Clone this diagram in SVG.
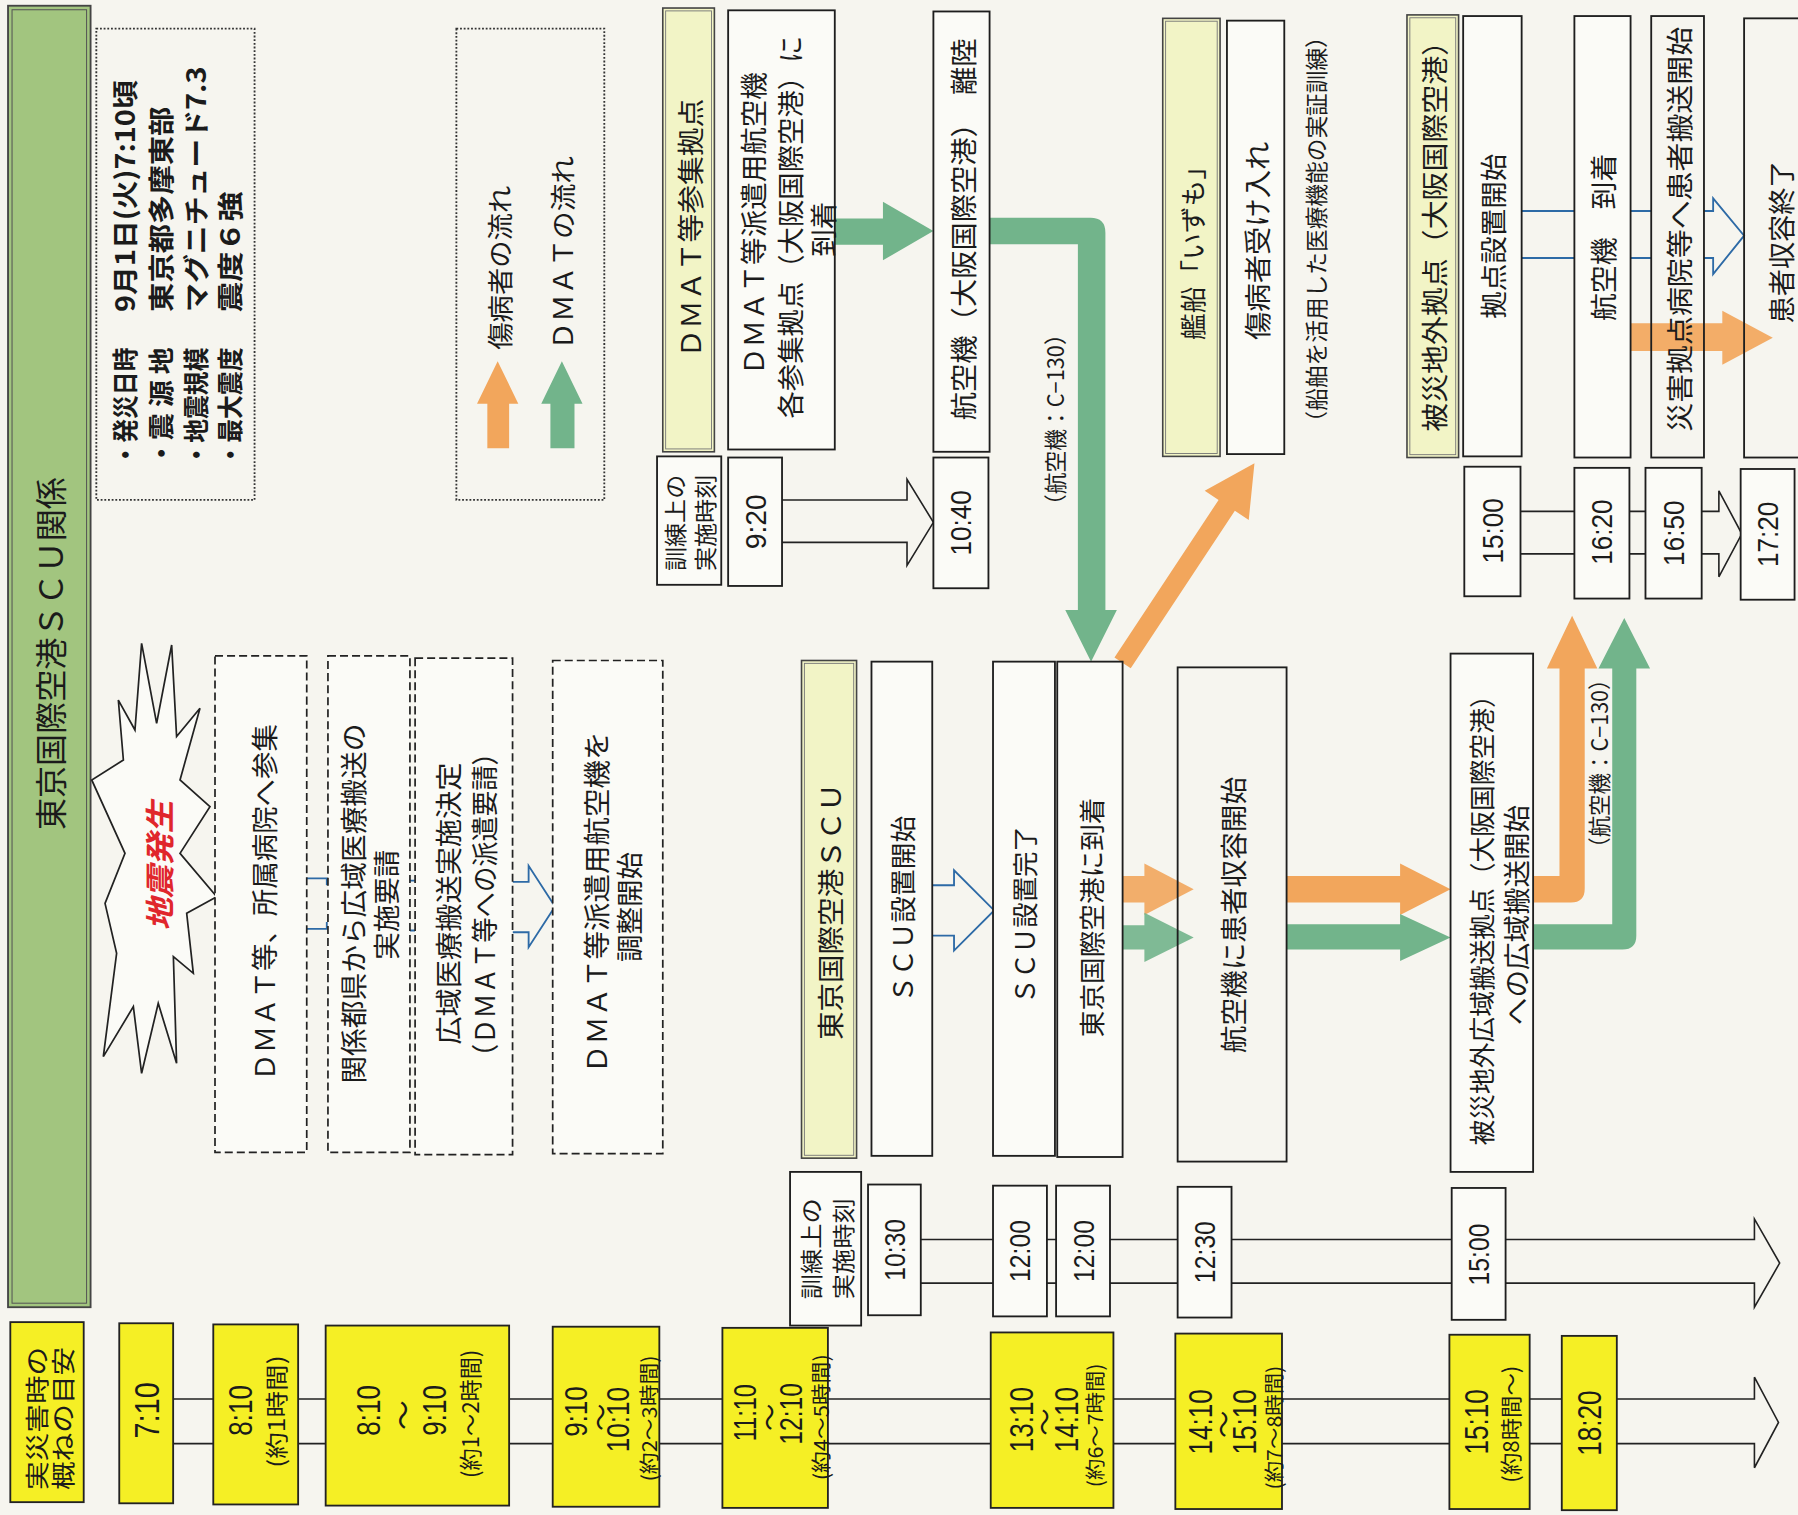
<svg xmlns="http://www.w3.org/2000/svg" width="1798" height="1515" viewBox="0 0 1798 1515">
<defs>
<style>
.j{font-family:"Noto Sans CJK JP","Liberation Sans",sans-serif;fill:#1b1b1b;}
.n{font-family:"Liberation Sans","DejaVu Sans",sans-serif;fill:#1b1b1b;}
.v{text-anchor:middle;dominant-baseline:central;}
.vs{text-anchor:start;dominant-baseline:central;}
.box{fill:#fbfbf7;stroke:#1e1e1e;stroke-width:1.6;}
.open{fill:none;stroke:#1e1e1e;stroke-width:1.6;}
.yl{fill:#f5ef25;stroke:#222;stroke-width:1.6;}
.ly{fill:#f2f4c6;stroke:#444;stroke-width:1.4;}
.lyi{fill:none;stroke:#777;stroke-width:0.8;}
.dash{fill:#fbfbf7;stroke:#222;stroke-width:1.5;stroke-dasharray:7 3.5;}
.dot{fill:none;stroke:#333;stroke-width:1.6;stroke-dasharray:1.6 1.6;}
.hol{fill:none;stroke:#222;stroke-width:1.4;}
.blue{fill:none;stroke:#2d6aa6;stroke-width:1.6;}
.or{fill:#f2a65c;}
.gr{fill:#72b48b;}
</style>
</defs>
<rect x="0" y="0" width="1798" height="1515" fill="#f6f5ef"/>
<g transform="scale(1.14668)">

<g id="connectors">
  <!-- time row hollow arrows -->
  <path class="hol" d="M682,436 H791 V418 L814,455.5 L791,493 V473 H682"/>
  <path class="hol" d="M1326,446 H1499 V428 L1519,465.5 L1499,503 V483 H1326"/>
  <path class="hol" d="M803,1081 H1530 V1063 L1552,1101.5 L1530,1140 V1119 H803"/>
  <path class="hol" d="M151,1220 H1530 V1201 L1551,1240.5 L1530,1280 V1259 H151"/>
  <!-- blue connectors -->
  <path class="blue" d="M267.5,766 H285 V772 M267.5,810 H285 V804"/>
  <path class="blue" d="M357.5,768 H362 M357.5,811.5 H362"/>
  <path class="blue" d="M447,769 H461 V755 L484,790.5 L461,826 V813 H447"/>
  <path class="blue" d="M813,772 H832 V759 L867,794 L832,829 V816 H813"/>
  <path class="blue" d="M1327,184 H1373 M1327,225 H1373 M1422,184 H1440 M1422,225 H1440"/>
  <path class="blue" d="M1486,184 H1494 V173 L1521,205.5 L1494,239 V225 H1486"/>
  <!-- green: DMAT base to aircraft -->
  <path class="gr" d="M728,190.5 H770 V176 L814,201.5 L770,227 V213.5 H728 Z"/>
  <!-- green L: aircraft departs, down to Tokyo -->
  <path class="gr" d="M862,190 H951 Q964,190 964,203 V532 H974 L951.5,577 L929,532 H940 V213 H862 Z"/>
  <!-- orange diagonal to ship -->
  <path class="or" d="M971.9,573.3 L1062.7,436 L1050.6,428 L1094,404 L1089,453.4 L1076.9,445.4 L986.1,582.7 Z"/>
  <!-- orange/green into aircraft loading -->
  <path class="or" d="M979,764 H998 V753 L1041,775.5 L998,798 V787 H979 Z" opacity="0.9"/>
  <path class="gr" d="M979,807 H998 V796 L1041,817.5 L998,839 V828 H979 Z" opacity="0.9"/>
  <!-- orange/green to Osaka staging -->
  <path class="or" d="M1122,764 H1221 V753 L1265,775.5 L1221,798 V787 H1122 Z"/>
  <path class="gr" d="M1122,806 H1221 V797 L1265,817.5 L1221,838 V828 H1122 Z"/>
  <!-- orange/green up to Osaka -->
  <path class="or" d="M1337,764 H1360 V583 H1349 L1371,537 L1393,583 H1382 V775 Q1382,787 1370,787 H1337 Z"/>
  <path class="gr" d="M1337,806 H1406 V583 H1394 L1416.5,539 L1439,583 H1427 V816 Q1427,828 1415,828 H1337 Z"/>
  <!-- orange: to disaster base hospitals -->
  <path class="or" d="M1422,282 H1502 V271 L1546,294.5 L1502,318 V306 H1422 Z" opacity="0.92"/>
</g>

<g id="n-header">
  <rect x="7" y="5" width="72" height="1135" fill="#a2c57f" stroke="#444" stroke-width="1.6"/>
  <rect x="10.5" y="8.5" width="65" height="1128" fill="none" stroke="#555" stroke-width="0.9"/>
  <text class="j v" font-size="28" transform="translate(43,570) rotate(-90)">東京国際空港ＳＣＵ関係</text>
</g>

<g id="n-info">
  <rect class="dot" x="84" y="25" width="138" height="411"/>
  <g class="j vs" font-weight="bold" font-size="23">
    <text transform="translate(108,407) rotate(-90)" textLength="104" lengthAdjust="spacingAndGlyphs">・発災日時</text>
    <text transform="translate(108,272) rotate(-90)" textLength="202" lengthAdjust="spacingAndGlyphs">9月1日(火)7:10頃</text>
    <text transform="translate(139,407) rotate(-90)" textLength="104" lengthAdjust="spacingAndGlyphs">・震 源 地</text>
    <text transform="translate(139,272) rotate(-90)" textLength="179" lengthAdjust="spacingAndGlyphs">東京都多摩東部</text>
    <text transform="translate(170,407) rotate(-90)" textLength="104" lengthAdjust="spacingAndGlyphs">・地震規模</text>
    <text transform="translate(170,272) rotate(-90)" textLength="214" lengthAdjust="spacingAndGlyphs">マグニチュード7.3</text>
    <text transform="translate(199,407) rotate(-90)" textLength="104" lengthAdjust="spacingAndGlyphs">・最大震度</text>
    <text transform="translate(199,272) rotate(-90)" textLength="105" lengthAdjust="spacingAndGlyphs">震度６強</text>
  </g>
</g>

<g id="n-legend">
  <rect class="dot" x="398" y="25" width="129" height="411"/>
  <path class="or" d="M425,391 V352 H416 L434,315 L452,352 H444 V391 Z"/>
  <path class="gr" d="M480,391 V352 H472 L490,315 L508,352 H501 V391 Z"/>
  <text class="j vs" font-size="23" transform="translate(435,305) rotate(-90)" textLength="143" lengthAdjust="spacingAndGlyphs">傷病者の流れ</text>
  <text class="j vs" font-size="23" transform="translate(490,305) rotate(-90)" textLength="169" lengthAdjust="spacingAndGlyphs">ＤＭＡＴの流れ</text>
</g>

<g id="n-quake">
  <polygon points="123.5,561 136.6,630.8 149.7,562.5 154,642.4 174.4,617.7 157,680.2 183.1,703.5 157,744.2 189,782 162.8,796.5 168.6,848.8 151.2,834.3 154,927.3 138,875 123.5,936 116.3,877.9 90.1,921.5 101.7,831.4 91.6,787.8 109,744.2 80,680.2 107.6,662.8 103.2,610.5 117.7,636.6" fill="#fbfbf7" stroke="#222" stroke-width="1.5" stroke-linejoin="miter"/>
  <text class="j v" font-size="26" font-weight="bold" font-style="italic" fill="#e0262c" style="fill:#e0262c" transform="translate(138,755) rotate(-90)" textLength="113" lengthAdjust="spacingAndGlyphs">地震発生</text>
</g>

<g id="n-d1">
  <rect class="dash" x="187.5" y="572" width="80" height="433"/>
  <text class="j v" font-size="24" transform="translate(229,787) rotate(-90)" textLength="311" lengthAdjust="spacingAndGlyphs">ＤＭＡＴ等、所属病院へ参集</text>
</g>
<g id="n-d2">
  <rect class="dash" x="286" y="572" width="71.5" height="433"/>
  <text class="j v" font-size="24" transform="translate(307,788) rotate(-90)" textLength="314" lengthAdjust="spacingAndGlyphs">関係都県から広域医療搬送の</text>
  <text class="j v" font-size="24" transform="translate(336,789) rotate(-90)">実施要請</text>
</g>
<g id="n-d3">
  <rect class="dash" x="362" y="574" width="85" height="433"/>
  <text class="j v" font-size="24" transform="translate(390,788) rotate(-90)" textLength="246" lengthAdjust="spacingAndGlyphs">広域医療搬送実施決定</text>
  <text class="j v" font-size="24" transform="translate(421,789) rotate(-90)" textLength="287" lengthAdjust="spacingAndGlyphs">（ＤＭＡＴ等への派遣要請）</text>
</g>
<g id="n-d4">
  <rect class="dash" x="482" y="576" width="96" height="430"/>
  <text class="j v" font-size="24" transform="translate(519,787) rotate(-90)" textLength="298" lengthAdjust="spacingAndGlyphs">ＤＭＡＴ等派遣用航空機を</text>
  <text class="j v" font-size="24" transform="translate(548,791) rotate(-90)">調整開始</text>
</g>

<g id="n-dmat-base">
  <rect class="ly" x="578" y="7" width="45" height="387"/>
  <rect class="lyi" x="580.5" y="9.5" width="40" height="382"/>
  <text class="j v" font-size="24" transform="translate(600.5,199) rotate(-90)" textLength="226" lengthAdjust="spacingAndGlyphs">ＤＭＡＴ等参集拠点</text>
</g>
<g id="n-dmat-arrive">
  <rect class="box" x="635" y="9" width="93" height="383"/>
  <text class="j v" font-size="24" transform="translate(656,195) rotate(-90)" textLength="264" lengthAdjust="spacingAndGlyphs">ＤＭＡＴ等派遣用航空機</text>
  <text class="j v" font-size="24" transform="translate(688,198) rotate(-90)" textLength="334" lengthAdjust="spacingAndGlyphs">各参集拠点（大阪国際空港）に</text>
  <text class="j v" font-size="24" transform="translate(717,200) rotate(-90)">到着</text>
</g>
<g id="n-osaka-takeoff">
  <rect class="box" x="814" y="10" width="49" height="384"/>
  <text class="j v" font-size="24" transform="translate(839,200) rotate(-90)" textLength="333" lengthAdjust="spacingAndGlyphs">航空機（大阪国際空港）　離陸</text>
</g>
<g id="n-c130-a">
  <text class="j v" font-size="20" transform="translate(919,366) rotate(-90)" textLength="168" lengthAdjust="spacingAndGlyphs">（航空機：C−130）</text>
</g>
<g id="n-izumo">
  <rect class="ly" x="1014" y="16" width="50" height="382"/>
  <rect class="lyi" x="1016.5" y="18.5" width="45" height="377"/>
  <text class="j v" font-size="23" transform="translate(1039,215) rotate(-90)" textLength="163" lengthAdjust="spacingAndGlyphs">艦船「いずも」</text>
</g>
<g id="n-ship-accept">
  <rect class="box" x="1070" y="18" width="50" height="378"/>
  <text class="j v" font-size="24" transform="translate(1095,210) rotate(-90)" textLength="173" lengthAdjust="spacingAndGlyphs">傷病者受け入れ</text>
</g>
<g id="n-ship-note">
  <text class="j v" font-size="20" transform="translate(1147,200) rotate(-90)" textLength="356" lengthAdjust="spacingAndGlyphs">（船舶を活用した医療機能の実証訓練）</text>
</g>

<g id="n-osaka-base">
  <rect class="ly" x="1227" y="13" width="45" height="386"/>
  <rect class="lyi" x="1229.5" y="15.5" width="40" height="381"/>
  <text class="j v" font-size="24" transform="translate(1249.5,200) rotate(-90)" textLength="353" lengthAdjust="spacingAndGlyphs">被災地外拠点（大阪国際空港）</text>
</g>
<g id="n-base-setup">
  <rect class="box" x="1276" y="14" width="51" height="384"/>
  <text class="j v" font-size="24" transform="translate(1301.5,206) rotate(-90)" textLength="144" lengthAdjust="spacingAndGlyphs">拠点設置開始</text>
</g>
<g id="n-plane-arrive">
  <rect class="box" x="1373" y="14" width="49" height="385"/>
  <text class="j v" font-size="24" transform="translate(1397.5,207) rotate(-90)" textLength="146" lengthAdjust="spacingAndGlyphs">航空機　到着</text>
</g>
<g id="n-hospital">
  <rect class="open" x="1440" y="14" width="46" height="385"/>
  <text class="j v" font-size="24" transform="translate(1463,200) rotate(-90)" textLength="353" lengthAdjust="spacingAndGlyphs">災害拠点病院等へ患者搬送開始</text>
</g>
<g id="n-done">
  <rect class="open" x="1521" y="16" width="60" height="383"/>
  <text class="j v" font-size="24" transform="translate(1552,211) rotate(-90)" textLength="142" lengthAdjust="spacingAndGlyphs">患者収容終了</text>
</g>

<g id="n-scu">
  <rect class="ly" x="699" y="576" width="48" height="434"/>
  <rect class="lyi" x="701.5" y="578.5" width="43" height="429"/>
  <text class="j v" font-size="24" transform="translate(723,795) rotate(-90)" textLength="224" lengthAdjust="spacingAndGlyphs">東京国際空港ＳＣＵ</text>
</g>
<g id="n-scu-start">
  <rect class="box" x="760" y="577" width="53" height="431"/>
  <text class="j v" font-size="23" transform="translate(786.5,793) rotate(-90)" textLength="163" lengthAdjust="spacingAndGlyphs">ＳＣＵ設置開始</text>
</g>
<g id="n-scu-done">
  <rect class="box" x="866" y="577" width="54" height="431"/>
  <text class="j v" font-size="23" transform="translate(893,798) rotate(-90)" textLength="155" lengthAdjust="spacingAndGlyphs">ＳＣＵ設置完了</text>
</g>
<g id="n-tokyo-arrive">
  <rect class="box" x="922" y="577" width="57" height="432"/>
  <text class="j v" font-size="23" transform="translate(951,800) rotate(-90)" textLength="209" lengthAdjust="spacingAndGlyphs">東京国際空港に到着</text>
</g>
<g id="n-loading">
  <rect class="open" x="1027" y="582" width="95" height="431"/>
  <text class="j v" font-size="24" transform="translate(1074,798) rotate(-90)" textLength="241" lengthAdjust="spacingAndGlyphs">航空機に患者収容開始</text>
</g>
<g id="n-transport">
  <rect class="box" x="1265" y="570" width="72" height="452"/>
  <text class="j v" font-size="23" transform="translate(1291,797) rotate(-90)" textLength="404" lengthAdjust="spacingAndGlyphs">被災地外広域搬送拠点（大阪国際空港）</text>
  <text class="j v" font-size="24" transform="translate(1321,798) rotate(-90)" textLength="192" lengthAdjust="spacingAndGlyphs">への広域搬送開始</text>
</g>
<g id="n-c130-b">
  <text class="j v" font-size="20" transform="translate(1394,666) rotate(-90)" textLength="166" lengthAdjust="spacingAndGlyphs">（航空機：C−130）</text>
</g>

<!-- training time labels -->
<g id="n-trainlabel-top">
  <rect class="box" x="573" y="398" width="56" height="112"/>
  <text class="j v" font-size="20" transform="translate(588,456) rotate(-90)" textLength="84" lengthAdjust="spacingAndGlyphs">訓練上の</text>
  <text class="j v" font-size="20" transform="translate(614,456) rotate(-90)" textLength="84" lengthAdjust="spacingAndGlyphs">実施時刻</text>
</g>
<g id="n-t920"><rect class="box" x="635" y="399" width="47" height="112"/><text class="n v" font-size="26" transform="translate(658.5,455) rotate(-90)" textLength="48" lengthAdjust="spacingAndGlyphs">9:20</text></g>
<g id="n-t1040"><rect class="box" x="814" y="399" width="48" height="114"/><text class="n v" font-size="26" transform="translate(838,456) rotate(-90)" textLength="57" lengthAdjust="spacingAndGlyphs">10:40</text></g>
<g id="n-t1500a"><rect class="box" x="1277" y="407" width="49" height="113"/><text class="n v" font-size="26" transform="translate(1301.5,463) rotate(-90)" textLength="57" lengthAdjust="spacingAndGlyphs">15:00</text></g>
<g id="n-t1620"><rect class="box" x="1373" y="408" width="48" height="114"/><text class="n v" font-size="26" transform="translate(1397,464) rotate(-90)" textLength="57" lengthAdjust="spacingAndGlyphs">16:20</text></g>
<g id="n-t1650"><rect class="box" x="1435" y="408" width="49" height="114"/><text class="n v" font-size="26" transform="translate(1459.5,465) rotate(-90)" textLength="57" lengthAdjust="spacingAndGlyphs">16:50</text></g>
<g id="n-t1720"><rect class="box" x="1518" y="409" width="47" height="114"/><text class="n v" font-size="26" transform="translate(1541.5,466) rotate(-90)" textLength="57" lengthAdjust="spacingAndGlyphs">17:20</text></g>

<g id="n-trainlabel-mid">
  <rect class="box" x="689" y="1022" width="62" height="134"/>
  <text class="j v" font-size="20" transform="translate(706,1089) rotate(-90)" textLength="88" lengthAdjust="spacingAndGlyphs">訓練上の</text>
  <text class="j v" font-size="20" transform="translate(734,1089) rotate(-90)" textLength="88" lengthAdjust="spacingAndGlyphs">実施時刻</text>
</g>
<g id="n-t1030"><rect class="box" x="757" y="1033" width="46" height="114"/><text class="n v" font-size="26" transform="translate(780,1090) rotate(-90)" textLength="54" lengthAdjust="spacingAndGlyphs">10:30</text></g>
<g id="n-t1200a"><rect class="box" x="866" y="1034" width="47" height="114"/><text class="n v" font-size="26" transform="translate(889.5,1091) rotate(-90)" textLength="54" lengthAdjust="spacingAndGlyphs">12:00</text></g>
<g id="n-t1200b"><rect class="box" x="921" y="1034" width="47" height="114"/><text class="n v" font-size="26" transform="translate(944.5,1091) rotate(-90)" textLength="54" lengthAdjust="spacingAndGlyphs">12:00</text></g>
<g id="n-t1230"><rect class="box" x="1027" y="1035" width="47" height="114"/><text class="n v" font-size="26" transform="translate(1050.5,1092) rotate(-90)" textLength="54" lengthAdjust="spacingAndGlyphs">12:30</text></g>
<g id="n-t1500b"><rect class="box" x="1266" y="1036" width="47" height="115"/><text class="n v" font-size="26" transform="translate(1289.5,1094) rotate(-90)" textLength="54" lengthAdjust="spacingAndGlyphs">15:00</text></g>

<!-- real-disaster estimate row -->
<g id="n-y-label">
  <rect class="yl" x="9" y="1153" width="64" height="157"/>
  <text class="j v" font-size="21" transform="translate(31,1237) rotate(-90)" textLength="125" lengthAdjust="spacingAndGlyphs">実災害時の</text>
  <text class="j v" font-size="21" transform="translate(54,1237) rotate(-90)" textLength="125" lengthAdjust="spacingAndGlyphs">概ねの目安</text>
</g>
<g id="n-y710">
  <rect class="yl" x="104" y="1154" width="47" height="157"/>
  <text class="n v" font-size="30" transform="translate(128,1230) rotate(-90)" textLength="49" lengthAdjust="spacingAndGlyphs">7:10</text>
</g>
<g id="n-y810">
  <rect class="yl" x="186" y="1155" width="74" height="157"/>
  <text class="n v" font-size="29" transform="translate(210,1230) rotate(-90)" textLength="44" lengthAdjust="spacingAndGlyphs">8:10</text>
  <text class="j v" font-size="20" transform="translate(240,1231) rotate(-90)" textLength="98" lengthAdjust="spacingAndGlyphs">(約1時間)</text>
</g>
<g id="n-y810-910">
  <rect class="yl" x="284" y="1156" width="160" height="157"/>
  <text class="n v" font-size="29" transform="translate(321,1230) rotate(-90)" textLength="44" lengthAdjust="spacingAndGlyphs">8:10</text>
  <text class="j v" font-size="26" transform="translate(350,1234) rotate(-90)">～</text>
  <text class="n v" font-size="29" transform="translate(379,1230) rotate(-90)" textLength="44" lengthAdjust="spacingAndGlyphs">9:10</text>
  <text class="j v" font-size="20" transform="translate(409,1233) rotate(-90)" textLength="112" lengthAdjust="spacingAndGlyphs">(約1～2時間)</text>
</g>
<g id="n-y910-1010">
  <rect class="yl" x="482" y="1157" width="93" height="157"/>
  <text class="n v" font-size="28" transform="translate(502,1231) rotate(-90)" textLength="44" lengthAdjust="spacingAndGlyphs">9:10</text>
  <text class="j v" font-size="24" transform="translate(522,1236) rotate(-90)">～</text>
  <text class="n v" font-size="28" transform="translate(539,1238) rotate(-90)" textLength="57" lengthAdjust="spacingAndGlyphs">10:10</text>
  <text class="j v" font-size="18" transform="translate(565,1237) rotate(-90)" textLength="110" lengthAdjust="spacingAndGlyphs">(約2～3時間)</text>
</g>
<g id="n-y1110-1210">
  <rect class="yl" x="630" y="1158" width="92" height="157"/>
  <text class="n v" font-size="28" transform="translate(650,1232) rotate(-90)" textLength="50" lengthAdjust="spacingAndGlyphs">11:10</text>
  <text class="j v" font-size="24" transform="translate(670,1236) rotate(-90)">～</text>
  <text class="n v" font-size="28" transform="translate(690,1233) rotate(-90)" textLength="54" lengthAdjust="spacingAndGlyphs">12:10</text>
  <text class="j v" font-size="18" transform="translate(715,1236) rotate(-90)" textLength="110" lengthAdjust="spacingAndGlyphs">(約4～5時間)</text>
</g>
<g id="n-y1310-1410">
  <rect class="yl" x="864" y="1162" width="107" height="153"/>
  <text class="n v" font-size="29" transform="translate(891,1238) rotate(-90)" textLength="57" lengthAdjust="spacingAndGlyphs">13:10</text>
  <text class="j v" font-size="24" transform="translate(910,1240) rotate(-90)">～</text>
  <text class="n v" font-size="29" transform="translate(930,1238) rotate(-90)" textLength="57" lengthAdjust="spacingAndGlyphs">14:10</text>
  <text class="j v" font-size="18" transform="translate(954,1243) rotate(-90)" textLength="108" lengthAdjust="spacingAndGlyphs">(約6～7時間)</text>
</g>
<g id="n-y1410-1510">
  <rect class="yl" x="1025" y="1163" width="93" height="153"/>
  <text class="n v" font-size="29" transform="translate(1047,1240) rotate(-90)" textLength="57" lengthAdjust="spacingAndGlyphs">14:10</text>
  <text class="j v" font-size="24" transform="translate(1066,1242) rotate(-90)">～</text>
  <text class="n v" font-size="29" transform="translate(1085,1240) rotate(-90)" textLength="57" lengthAdjust="spacingAndGlyphs">15:10</text>
  <text class="j v" font-size="18" transform="translate(1110,1245) rotate(-90)" textLength="108" lengthAdjust="spacingAndGlyphs">(約7～8時間)</text>
</g>
<g id="n-y1510">
  <rect class="yl" x="1264" y="1164" width="70" height="152"/>
  <text class="n v" font-size="29" transform="translate(1288,1240) rotate(-90)" textLength="57" lengthAdjust="spacingAndGlyphs">15:10</text>
  <text class="j v" font-size="19" transform="translate(1316,1242) rotate(-90)" textLength="102" lengthAdjust="spacingAndGlyphs">(約8時間～)</text>
</g>
<g id="n-y1820">
  <rect class="yl" x="1362" y="1165" width="48" height="152"/>
  <text class="n v" font-size="29" transform="translate(1386,1241) rotate(-90)" textLength="57" lengthAdjust="spacingAndGlyphs">18:20</text>
</g>

</g>
</svg>
